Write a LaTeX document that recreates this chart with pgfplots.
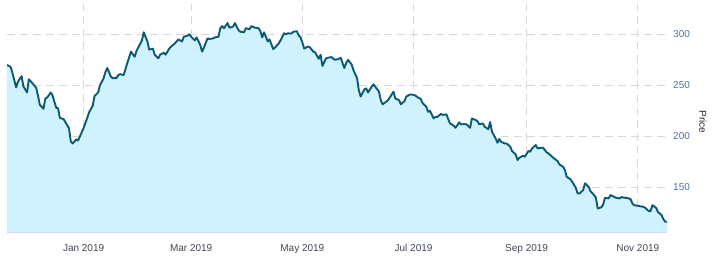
\documentclass[border=0pt]{standalone}
\usepackage{fontspec}
\setmainfont{Liberation Sans}
\usepackage{pgfplots}
\usepackage{pgfplotstable}
\pgfplotsset{compat=1.18}
\definecolor{linec}{HTML}{0B5A73}
\definecolor{fillc}{RGB}{207,242,254}
\definecolor{gridc}{RGB}{216,216,216}
\definecolor{ylabc}{HTML}{4572A7}
\definecolor{xlabc}{HTML}{3F4855}
\definecolor{axisc}{HTML}{CCD6EB}
% x = days since 1 Jan 2019
\pgfplotstableread{
day price
-42 270
-40 268
-39 262
-37 248
-36 253.5
-34 259
-33 249
-31 243
-30 256
-28 252
-26 247.6
-25 240
-24 231
-22 227
-21 237
-20 238
-18 243
-17 240
-15 228
-14 227.5
-13 218
-11 217
-10 214
-8 208
-7 195
-6 193
-4 197
-3 196
-1 204
0 208
2 218
3 223.5
5 230
6 239.5
8 243
9 250
11 257
12 263
13 267
15 258.5
16 257
18 257
19 260
20 261
22 260
24 272
26 283
28 278
29 283.6
32 294
33 302
35 293
36 285
38 286
39 280
41 276.5
42 280
44 282
45 280
47 286
48 288
50 291
51 293
52 295
54 293
55 297.6
57 298.6
58 300
59 297.6
61 294
62 297
64 289.5
65 283
66 287
68 296
69 295.4
71 296
72 297
74 297.6
75 306
76 308
77 306
79 311
80 306.5
82 307.5
83 311
85 304
86 302.5
88 302
89 306
91 305
92 308
94 306.5
96 306
97 303
98 297
99 302
101 293
102 295
104 285.6
105 287
107 291
108 294
110 301
111 300
112 301
114 300.7
115 302.5
117 303
118 299
119 297
120 292
121 286
123 288
124 287.5
126 283
127 282.4
128 279
129 276
130 280
131 269
133 276.5
134 277
136 277.7
137 276
138 275
140 276
141 277
143 267
144 271.6
145 275
147 270.6
148 265
150 257
151 245
152 239
154 246
155 247
156 243
158 248.6
159 251
160 248.6
162 244
163 235.6
164 231.4
166 234
167 235.6
169 241
170 243.7
171 237
173 235.6
174 231.4
176 234.6
177 239
179 241
180 241
182 240
183 238.5
185 236.6
186 232.4
188 229
189 224
190 225
192 217.6
193 219
194 219
196 222
197 221
199 221.6
200 217
201 212.7
203 210.4
204 208.4
206 213.7
207 211.8
209 212
210 211.8
212 208.4
213 217.6
215 216
216 215
217 211.8
219 212.7
220 209.4
222 207
223 214
224 204.5
226 198
227 193.7
228 197.4
229 194.7
231 193
232 193
234 190
235 185.6
237 182.4
238 176.8
239 179
241 181
242 180
244 185.6
245 185
246 188.2
248 191.5
249 188.2
251 188.8
252 188.8
254 184.3
255 183.3
257 180
258 178.4
260 175.8
261 172.5
263 170.2
264 167
265 160.4
267 158
268 155.5
270 149.6
271 144
272 144
274 147.4
275 154
277 150.6
278 146.4
280 142.5
281 139.8
282 129.4
284 130.5
285 133.3
286 139.8
288 139.2
289 142.5
291 140.8
292 139.8
294 139.2
295 140.5
297 139.8
298 139.8
300 138.5
301 134.3
302 132.6
304 132
305 131.6
307 131
308 130
310 126.8
311 126.8
312 132.6
314 130
315 126
317 122.8
318 119
319 116.3
320 116.3
}\pricedata
\begin{document}
\begin{tikzpicture}
\useasboundingbox (-7pt,-26.7pt) rectangle (713pt,232.3pt);
\begin{axis}[
  at={(0pt,0pt)}, anchor=south west,
  scale only axis,
  width=660pt, height=228.6pt,
  xmin=-42, xmax=320,
  ymin=106, ymax=330,
  axis x line*=bottom,
  axis y line*=right,
  x axis line style={draw=axisc, line width=0.8pt, -},
  y axis line style={draw=none},
  tick style={draw=none},
  xtick={0,59,120,181,243,304},
  xticklabels={Jan 2019,Mar 2019,May 2019,Jul 2019,Sep 2019,Nov 2019},
  ytick={150,200,250,300},
  xmajorgrids, ymajorgrids,
  major grid style={draw=gridc, line width=0.8pt, dash pattern=on 8pt off 5pt},
  /pgf/number format/assume math mode=true,
  xticklabel style={font=\fontsize{10}{12}\selectfont, text=xlabc, anchor=north, inner sep=0pt, yshift=-12pt},
  yticklabel style={font=\fontsize{10}{12}\selectfont, text=ylabc, anchor=west, inner sep=0pt, xshift=6pt},
  ylabel={Price},
  every axis y label/.style={at={(rel axis cs:1,0.5)}, xshift=36pt, yshift=-4pt, rotate=-90, anchor=center, font=\fontsize{10}{12}\selectfont, text=black!85},
  clip=true,
]
\addplot[draw=none, fill=fillc] table[x=day, y=price] {\pricedata} |- (axis cs:-42,106) -- cycle;
\addplot[draw=linec, line width=1.9pt, line join=round, mark=none] table[x=day, y=price] {\pricedata};
\end{axis}
\end{tikzpicture}
\end{document}
